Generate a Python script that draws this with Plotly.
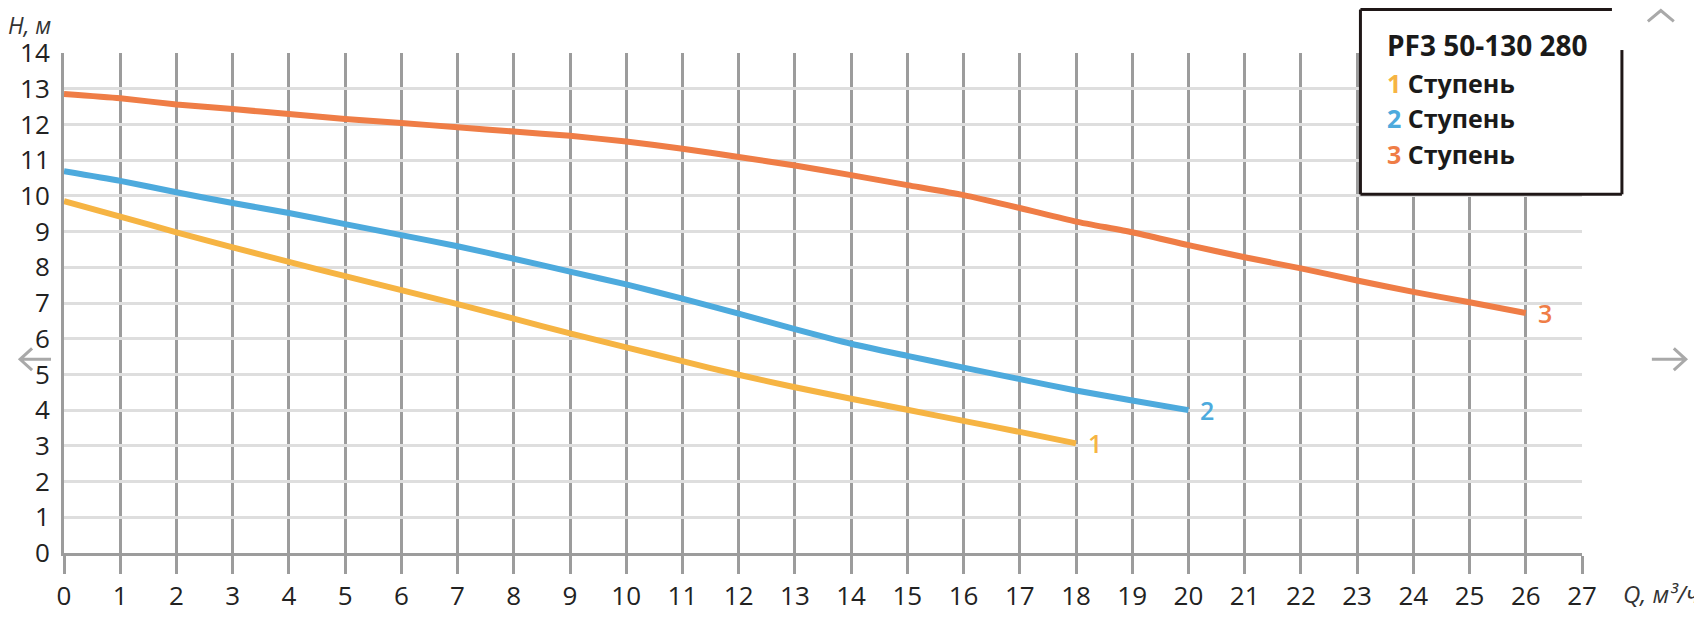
import plotly.graph_objects as go

# flow Q, m3/h and head H, m for the three pump speeds
q1 = list(range(0, 19))
h1 = [9.85, 9.42, 8.98, 8.56, 8.15, 7.75, 7.36, 6.97, 6.56, 6.15,
      5.76, 5.37, 4.99, 4.64, 4.32, 4.01, 3.70, 3.39, 3.07]

q2 = list(range(0, 21))
h2 = [10.69, 10.42, 10.10, 9.80, 9.52, 9.21, 8.90, 8.59, 8.24, 7.88,
      7.52, 7.12, 6.70, 6.27, 5.86, 5.52, 5.19, 4.87, 4.55, 4.27, 4.00]

q3 = list(range(0, 27))
h3 = [12.85, 12.73, 12.56, 12.43, 12.29, 12.15, 12.04, 11.92, 11.80, 11.68,
      11.52, 11.32, 11.09, 10.85, 10.58, 10.30, 10.02, 9.66, 9.28, 8.98,
      8.62, 8.28, 7.97, 7.63, 7.31, 7.02, 6.72]

x_ticks = list(range(0, 28))
y_ticks = list(range(0, 15))

model = "PF3 50-130 280"
stage_names = ["1", "2", "3"]
stage_text = "Ступень"

colors = ["#F6B443", "#4DAADD", "#EF7D46"]

# the page body has an 8px margin, so the figure is a bit smaller than the window
OFF = 8
W, H = 1702 - OFF, 625 - OFF
ML, MR, MT, MB = 61 - OFF, 120, 53 - OFF, 66
PW = W - ML - MR
PH = H - MT - MB
FONT = "Open Sans"


def px(x):
    # window pixel -> paper x
    return (x - OFF - ML) / PW


def py(y):
    # window pixel -> paper y
    return (H - MB - (y - OFF)) / PH


fig = go.Figure()
for q, h, c in zip([q1, q2, q3], [h1, h2, h3], colors):
    fig.add_trace(go.Scatter(x=q, y=h, mode="lines",
                             line=dict(color=c, width=6, shape="spline", smoothing=0.6),
                             hoverinfo="skip", showlegend=False))

# labels at curve ends
for q, h, c, name in zip([q1, q2, q3], [h1, h2, h3], colors, stage_names):
    fig.add_annotation(x=q[-1], y=h[-1], text=name, showarrow=False,
                       xanchor="left", yanchor="middle", xshift=10,
                       font=dict(family=FONT, size=25, color=c, weight=600))

# legend box (top-right corner left open as in the source)
box_l, box_r, box_t, box_b = 1360, 1622, 9, 196
line_c = "#1f1717"
fig.add_shape(type="rect", xref="paper", yref="paper", layer="above",
              x0=px(box_l), x1=px(box_r), y0=py(box_b), y1=py(box_t),
              fillcolor="white", line=dict(width=0))
for x0, y0, x1, y1 in [(box_l, box_t, box_l, box_b), (box_l, box_b, box_r, box_b),
                       (box_l, box_t, 1612, box_t), (box_r, 50, box_r, box_b)]:
    fig.add_shape(type="line", xref="paper", yref="paper", layer="above",
                  x0=px(x0), y0=py(y0), x1=px(x1), y1=py(y1),
                  line=dict(color=line_c, width=3))

fig.add_annotation(xref="paper", yref="paper", x=px(1385), y=py(45), text=model,
                   showarrow=False, xanchor="left", yanchor="middle",
                   font=dict(family=FONT, size=28, color="#1a1a1a", weight=700))
for i, (name, c) in enumerate(zip(stage_names, colors)):
    fig.add_annotation(xref="paper", yref="paper", x=px(1385), y=py(83 + 36 * i),
                       text=f"<span style='color:{c}'>{name}</span> {stage_text}",
                       showarrow=False, xanchor="left", yanchor="middle",
                       font=dict(family=FONT, size=25, color="#1a1a1a", weight=700))

# axis titles
fig.add_annotation(xref="paper", yref="paper", x=px(3), y=py(25), text="<i>H, м</i>",
                   showarrow=False, xanchor="left", yanchor="middle",
                   font=dict(family=FONT, size=23, color="#333"))
fig.add_annotation(xref="paper", yref="paper", x=px(1621), y=py(600),
                   text="<i>Q, м³/ч</i>",
                   showarrow=False, xanchor="left", yanchor="middle",
                   font=dict(family=FONT, size=24, color="#333"))

# carousel arrows from the page around the chart
arrow_c = "#a9a9a9"
for path in [
    f"M{px(48)},{py(363)} L{px(17)},{py(363)} M{px(29)},{py(352)} L{px(17)},{py(363)} L{px(29)},{py(374)}",
    f"M{px(1652)},{py(363)} L{px(1686)},{py(363)} M{px(1674)},{py(352)} L{px(1686)},{py(363)} L{px(1674)},{py(374)}",
    f"M{px(1648)},{py(21)} L{px(1661)},{py(10)} L{px(1674)},{py(21)}",
]:
    fig.add_shape(type="path", xref="paper", yref="paper", path=path,
                  line=dict(color=arrow_c, width=3))

fig.update_xaxes(range=[0, 27], tickvals=x_ticks, showgrid=True,
                 gridcolor="#9c9c9c", gridwidth=3,
                 showline=True, linecolor="#9c9c9c", linewidth=3,
                 ticks="outside", ticklen=18, tickwidth=3, tickcolor="#9c9c9c",
                 zeroline=False, fixedrange=True,
                 tickfont=dict(family=FONT, size=26, color="#222"))
fig.update_yaxes(range=[0, 14], tickvals=y_ticks, showgrid=True,
                 gridcolor="#dedede", gridwidth=3,
                 showline=True, linecolor="#9c9c9c", linewidth=3,
                 ticks="", zeroline=False, fixedrange=True, ticklabelstandoff=6,
                 tickfont=dict(family=FONT, size=26, color="#222"))

fig.update_layout(width=W, height=H, margin=dict(l=ML, r=MR, t=MT, b=MB),
                  plot_bgcolor="white", paper_bgcolor="white")

fig.write_html("out.html", config={"displayModeBar": False})
